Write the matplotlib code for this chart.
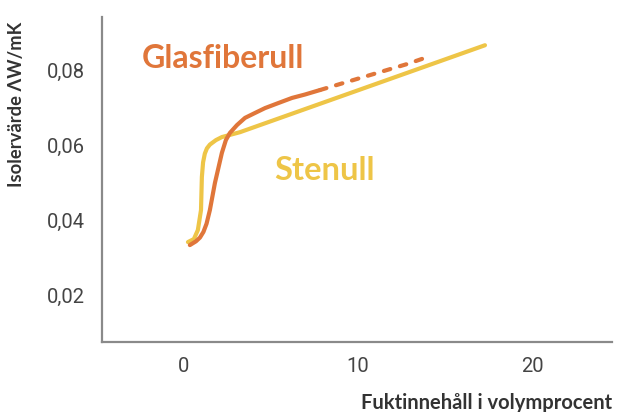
import matplotlib.pyplot as plt
from matplotlib.ticker import FuncFormatter

plt.rcParams["font.family"] = ["Lato", "DejaVu Sans"]

# Glasfiberull: solid measured part, then dashed extrapolation
glas_x = [0.34, 0.69, 0.92, 1.12, 1.30, 1.49, 1.78, 1.95, 2.18, 2.41, 2.64, 3.05, 3.51, 4.08, 4.66, 5.40, 6.21, 6.95, 7.82]
glas_y = [0.0335, 0.0345, 0.0355, 0.0370, 0.0392, 0.0428, 0.0500, 0.0534, 0.0580, 0.0614, 0.0633, 0.0654, 0.0673, 0.0686, 0.0699, 0.0712, 0.0726, 0.0735, 0.0747]
glas_dash_x = [7.82, 8.97, 10.86, 12.82, 14.14]
glas_dash_y = [0.0747, 0.0763, 0.0789, 0.0816, 0.0837]

# Stenull
sten_x = [0.23, 0.57, 0.80, 0.98, 1.03, 1.10, 1.20, 1.32, 1.49, 1.84, 2.18, 3.22, 17.30]
sten_y = [0.0343, 0.0351, 0.0375, 0.0428, 0.0516, 0.0555, 0.0578, 0.0592, 0.0602, 0.0614, 0.0622, 0.0635, 0.0866]

x_ticks = [0, 10, 20]
y_ticks = [0.02, 0.04, 0.06, 0.08]

ORANGE = "#E0763A"
YELLOW = "#EEC547"

fig = plt.figure(figsize=(6.17, 4.12), dpi=100)
ax = fig.add_axes([0.1653, 0.1699, 0.8266, 0.7888])

line_kw = dict(linewidth=3.0, solid_capstyle="round", solid_joinstyle="round")
ax.plot(sten_x, sten_y, color=YELLOW, **line_kw)
ax.plot(glas_x, glas_y, color=ORANGE, **line_kw)
ax.plot(glas_dash_x, glas_dash_y, color=ORANGE, linewidth=3.0,
        linestyle=(0, (1.6, 2.4)), dash_capstyle="round")

ax.text(-2.42, 0.0832, "Glasfiberull", color=ORANGE, fontsize=23,
        fontweight="bold", va="center", ha="left")
ax.text(5.2, 0.0534, "Stenull", color=YELLOW, fontsize=23.5,
        fontweight="bold", va="center", ha="left")

ax.set_xlim(-4.71, 24.6)
ax.set_ylim(0.00775, 0.0941)
ax.set_xticks(x_ticks)
ax.set_yticks(y_ticks)
ax.yaxis.set_major_formatter(FuncFormatter(lambda v, _: f"{v:.2f}".replace(".", ",")))
ax.tick_params(length=0, labelsize=14.5, colors="#444444")
for lbl in ax.get_xticklabels() + ax.get_yticklabels():
    lbl.set_fontfamily(["Roboto", "DejaVu Sans"])
ax.tick_params(axis="y", pad=12)
ax.tick_params(axis="x", pad=11)

for side in ("top", "right"):
    ax.spines[side].set_visible(False)
for side in ("left", "bottom"):
    ax.spines[side].set_color("#8a8a8a")
    ax.spines[side].set_linewidth(1.6)

fig.text(0.992, 0.022, "Fuktinnehåll i volymprocent", fontsize=14.5,
         fontweight="bold", color="#333333", ha="right", va="center")
fig.text(0.026, 0.747, "Isolervärde ΛW/mK", fontsize=13.2, fontweight="bold",
         color="#333333", rotation=90, ha="center", va="center")

fig.savefig("out.png", dpi=100)
